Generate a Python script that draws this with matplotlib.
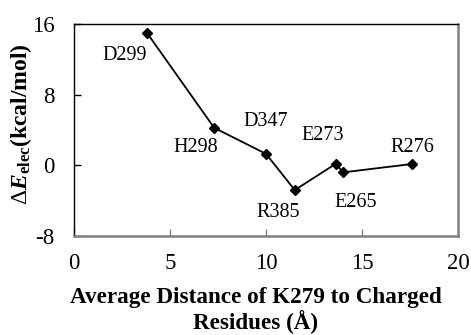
import matplotlib
matplotlib.use("Agg")
import matplotlib.pyplot as plt

plt.rcParams['font.family'] = ['Liberation Serif', 'DejaVu Serif']
plt.rcParams['mathtext.fontset'] = 'custom'
plt.rcParams['mathtext.rm'] = 'Liberation Serif'
plt.rcParams['mathtext.it'] = 'Liberation Serif:italic'
plt.rcParams['mathtext.bf'] = 'Liberation Serif:bold'
plt.rcParams['mathtext.bfit'] = 'Liberation Serif:bold:italic'

residues = ["D299", "H298", "D347", "R385", "E273", "E265", "R276"]
distance = [3.8, 7.3, 10.0, 11.5, 13.65, 14.0, 17.6]
delta_e = [15.0, 4.25, 1.3, -2.8, 0.2, -0.8, 0.15]
# label offsets in points (dx, dy)
offsets = [(-16, -16), (-13.5, -14.5), (0, 23), (-12, -16), (-10, 20), (9, -22), (0, 12)]

x_ticks = [0, 5, 10, 15, 20]
y_ticks = [-8, 0, 8, 16]

fig = plt.figure(figsize=(4.71, 3.35), dpi=100)
ax = fig.add_axes([74/471, 1-236/335, (458-74)/471, (236-24)/335])

ax.plot(distance, delta_e, color='black', lw=1.3, marker='D', ms=5.5,
        markerfacecolor='black', markeredgecolor='black')

for name, x, y, (dx, dy) in zip(residues, distance, delta_e, offsets):
    ax.annotate(name, (x, y), xytext=(dx, dy), textcoords='offset points',
                ha='center', va='center', fontsize=14.5)

ax.set_xlim(0, 20)
ax.set_ylim(-8, 16)
ax.set_xticks(x_ticks)
ax.set_yticks(y_ticks)
ax.set_yticklabels([str(t) for t in y_ticks])
ax.tick_params(axis='both', direction='in', length=5, width=1, labelsize=16.5,
               colors='black')
ax.tick_params(axis='x', pad=12, color='#808080')
ax.tick_params(axis='y', pad=14)

ax.spines['left'].set_color('black')
ax.spines['top'].set_color('black')
ax.spines['left'].set_linewidth(1.0)
ax.spines['top'].set_linewidth(1.0)
ax.spines['bottom'].set_color('#808080')
ax.spines['right'].set_color('#808080')
ax.spines['bottom'].set_linewidth(1.8)
ax.spines['right'].set_linewidth(1.8)

ax.set_xlabel("Average Distance of K279 to Charged\nResidues (Å)",
              fontsize=16.7, fontweight='bold', linespacing=1.1)
ax.xaxis.set_label_coords(0.474, -0.24)
ax.set_ylabel(r"$\Delta\mathbfit{E}_{\mathbf{elec}}$(kcal/mol)",
              fontsize=17, fontweight='bold')
ax.yaxis.set_label_coords(-0.105, 0.528)

fig.savefig("out.png", dpi=100)
